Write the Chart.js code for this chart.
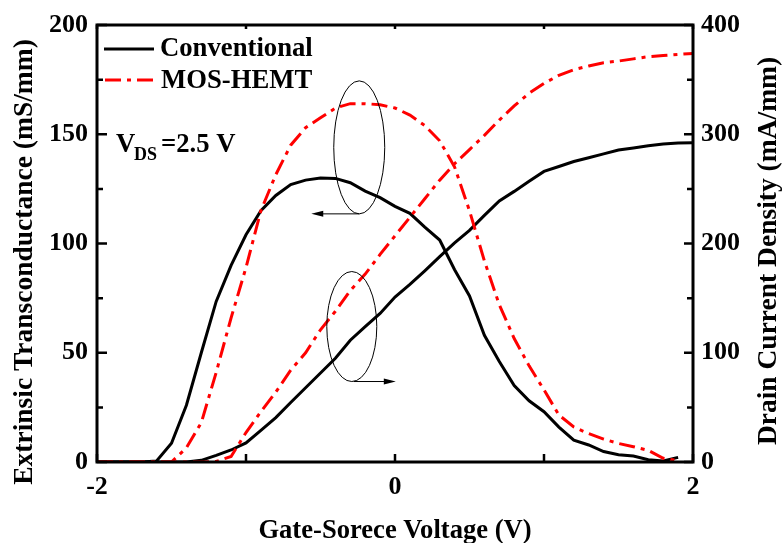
<!DOCTYPE html>
<html>
<head>
<meta charset="utf-8">
<script src="https://cdn.jsdelivr.net/npm/chart.js@4.4.0/dist/chart.umd.min.js"></script>
<style>
  body { margin: 0; background: #fff; }
</style>
</head>
<body>
<canvas id="c" width="782" height="543"></canvas>
<script>
// gate-source voltage (V)
const voltage = [-2.0, -1.9, -1.8, -1.7, -1.6, -1.5, -1.4, -1.3, -1.2, -1.1, -1.0,
  -0.9, -0.8, -0.7, -0.6, -0.5, -0.4, -0.3, -0.2, -0.1, 0.0,
  0.1, 0.2, 0.3, 0.4, 0.5, 0.6, 0.7, 0.8, 0.9, 1.0,
  1.1, 1.2, 1.3, 1.4, 1.5, 1.6, 1.7, 1.8, 1.9, 2.0];

// extrinsic transconductance (mS/mm), left axis
const gmConv = [0, 0, 0, 0, 0.5, 8.6, 26, 50, 73.5, 90, 104,
  115, 122, 127, 129, 130, 129.8, 127.8, 124, 121, 117,
  113.8, 107.5, 101.6, 88, 76, 58, 46, 35, 28, 23,
  16, 10, 7.8, 4.8, 3.3, 2.7, 1, 0.5, 2.1, null];
const gmMos = [0, 0, 0, 0, 0, 0, 6.5, 18, 41, 66, 89,
  115, 131.5, 145, 153, 157.5, 162, 164, 164, 163.5, 162,
  158.8, 154, 147, 135, 115, 92, 72, 56.5, 44, 33,
  21.5, 16, 13, 10.5, 8.5, 7, 5.3, 1.7, 0.6, null];

// drain current density (mA/mm), right axis
const idConv = [0, 0, 0, 0, 0, 0, 0, 1.5, 6, 11, 17.5,
  29, 40.7, 54.5, 68, 81.5, 95, 111.5, 124, 136, 151,
  162.5, 175, 188, 200.6, 212, 225.7, 239, 247.7, 257, 266,
  270.5, 275, 278.5, 282, 285.6, 287.5, 289.5, 291, 292, 292.3];
const idMos = [0, 0, 0, 0, 0, 0, 0, 0, 0.5, 5, 27,
  46, 64, 84, 100, 121, 138, 157, 172, 190, 207,
  224, 241, 258, 273, 286, 299, 313, 326, 337.5, 346.5,
  354, 359, 362.5, 365.5, 367, 369, 371, 372, 373, 374];

const xTicks = [-2, 0, 2];
const gmTicks = [0, 50, 100, 150, 200];
const idTicks = [0, 100, 200, 300, 400];

const serif = "'Liberation Serif', 'Times New Roman', serif";
const red = '#ff0000';
const dashDot = [16, 6, 4, 6];

const pts = (ys) => voltage.map((v, i) => ({x: v, y: ys[i]}));

const frame = {
  id: 'frame',
  afterDraw(chart) {
    const {ctx, chartArea: a, scales} = chart;
    const x = scales.x, y = scales.y, y1 = scales.y1;
    ctx.save();
    ctx.strokeStyle = '#000';
    ctx.fillStyle = '#000';

    // inward ticks
    ctx.lineWidth = 2.5;
    ctx.beginPath();
    for (let v = 0; v <= 200; v += 25) {
      const p = y.getPixelForValue(v), len = v % 50 === 0 ? 10 : 6;
      ctx.moveTo(a.left, p); ctx.lineTo(a.left + len, p);
    }
    for (let v = 0; v <= 400; v += 50) {
      const p = y1.getPixelForValue(v), len = v % 100 === 0 ? 9 : 6;
      ctx.moveTo(a.right, p); ctx.lineTo(a.right - len, p);
    }
    for (let v = -2; v <= 2; v += 1) {
      const p = x.getPixelForValue(v);
      ctx.moveTo(p, a.bottom); ctx.lineTo(p, a.bottom - 8);
      ctx.moveTo(p, a.top); ctx.lineTo(p, a.top + 4);
    }
    ctx.stroke();

    // frame
    ctx.lineWidth = 3;
    ctx.strokeRect(a.left, a.top, a.right - a.left, a.bottom - a.top);

    // legend
    ctx.lineWidth = 3;
    ctx.beginPath();
    ctx.moveTo(104, 49); ctx.lineTo(154, 49);
    ctx.stroke();
    ctx.strokeStyle = red;
    ctx.setLineDash(dashDot);
    ctx.beginPath();
    ctx.moveTo(105, 80); ctx.lineTo(156, 80);
    ctx.stroke();
    ctx.setLineDash([]);
    ctx.strokeStyle = '#000';
    ctx.font = 'bold 26.7px ' + serif;
    ctx.textAlign = 'left';
    ctx.textBaseline = 'alphabetic';
    ctx.fillText('Conventional', 160, 56);
    ctx.fillText('MOS-HEMT', 161, 88);

    // V_DS label
    ctx.fillText('V', 116, 152);
    ctx.font = 'bold 18px ' + serif;
    ctx.fillText('DS', 134, 160);
    ctx.font = 'bold 26.7px ' + serif;
    ctx.fillText('=2.5 V', 161, 152);

    // ellipses and arrows pointing to their axes
    ctx.lineWidth = 1;
    const e1x = x.getPixelForValue(-0.24), e1y = y.getPixelForValue(144);
    const e2x = x.getPixelForValue(-0.29), e2y = y.getPixelForValue(62);
    ctx.beginPath();
    ctx.ellipse(e1x, e1y, 25.5, 66.5, 0, 0, Math.PI * 2);
    ctx.stroke();
    ctx.beginPath();
    ctx.ellipse(e2x, e2y, 25, 55, 0, 0, Math.PI * 2);
    ctx.stroke();
    const arrow = (x0, yy, x1) => {
      const dir = Math.sign(x1 - x0);
      ctx.beginPath();
      ctx.moveTo(x0, yy); ctx.lineTo(x1 - dir * 10, yy);
      ctx.stroke();
      ctx.beginPath();
      ctx.moveTo(x1, yy);
      ctx.lineTo(x1 - dir * 12, yy - 3);
      ctx.lineTo(x1 - dir * 12, yy + 3);
      ctx.closePath();
      ctx.fill();
    };
    arrow(e1x, e1y + 66.5, e1x - 48);
    arrow(e2x + 2, e2y + 55, e2x + 44);

    // axis titles
    ctx.textAlign = 'center';
    ctx.font = 'bold 26.6px ' + serif;
    ctx.fillText('Gate-Sorece Voltage (V)', 395, 538);
    ctx.font = 'bold 27.5px ' + serif;
    ctx.save();
    ctx.translate(32, 262);
    ctx.rotate(-Math.PI / 2);
    ctx.fillText('Extrinsic Transconductance (mS/mm)', 0, 0);
    ctx.restore();
    ctx.save();
    ctx.translate(776, 251);
    ctx.rotate(-Math.PI / 2);
    ctx.fillText('Drain Current Density (mA/mm)', 0, 0);
    ctx.restore();

    ctx.restore();
  }
};

const tickFont = {family: serif, size: 26, weight: 'bold'};

new Chart(document.getElementById('c'), {
  type: 'line',
  data: {
    datasets: [{
      label: 'MOS-HEMT gm',
      data: pts(gmMos),
      yAxisID: 'y',
      borderColor: red,
      borderDash: dashDot,
    }, {
      label: 'MOS-HEMT Id',
      data: pts(idMos),
      yAxisID: 'y1',
      borderColor: red,
      borderDash: dashDot,
    }, {
      label: 'Conventional gm',
      data: pts(gmConv),
      yAxisID: 'y',
      borderColor: '#000',
    }, {
      label: 'Conventional Id',
      data: pts(idConv),
      yAxisID: 'y1',
      borderColor: '#000',
    }]
  },
  options: {
    responsive: false,
    animation: false,
    parsing: false,
    elements: {
      point: {radius: 0},
      line: {borderWidth: 3, tension: 0, fill: false}
    },
    layout: {padding: {top: 25, left: 0, right: 0, bottom: 0}},
    plugins: {
      legend: {display: false},
      tooltip: {enabled: false}
    },
    scales: {
      x: {
        type: 'linear',
        min: -2,
        max: 2,
        grid: {display: false, drawTicks: false},
        border: {display: false},
        afterFit: (s) => { s.height = 81; },
        afterBuildTicks: (s) => { s.ticks = xTicks.map(v => ({value: v})); },
        ticks: {
          color: '#000',
          font: tickFont,
          padding: 10,
          maxRotation: 0,
          autoSkip: false
        }
      },
      y: {
        type: 'linear',
        position: 'left',
        min: 0,
        max: 200,
        grid: {display: false, drawTicks: false},
        border: {display: false},
        afterFit: (s) => { s.width = 97; },
        afterBuildTicks: (s) => { s.ticks = gmTicks.map(v => ({value: v})); },
        ticks: {color: '#000', font: tickFont, padding: 9}
      },
      y1: {
        type: 'linear',
        position: 'right',
        min: 0,
        max: 400,
        grid: {display: false, drawTicks: false},
        border: {display: false},
        afterFit: (s) => { s.width = 89; },
        afterBuildTicks: (s) => { s.ticks = idTicks.map(v => ({value: v})); },
        ticks: {color: '#000', font: tickFont, padding: 8}
      }
    }
  },
  plugins: [frame]
});
</script>
</body>
</html>
